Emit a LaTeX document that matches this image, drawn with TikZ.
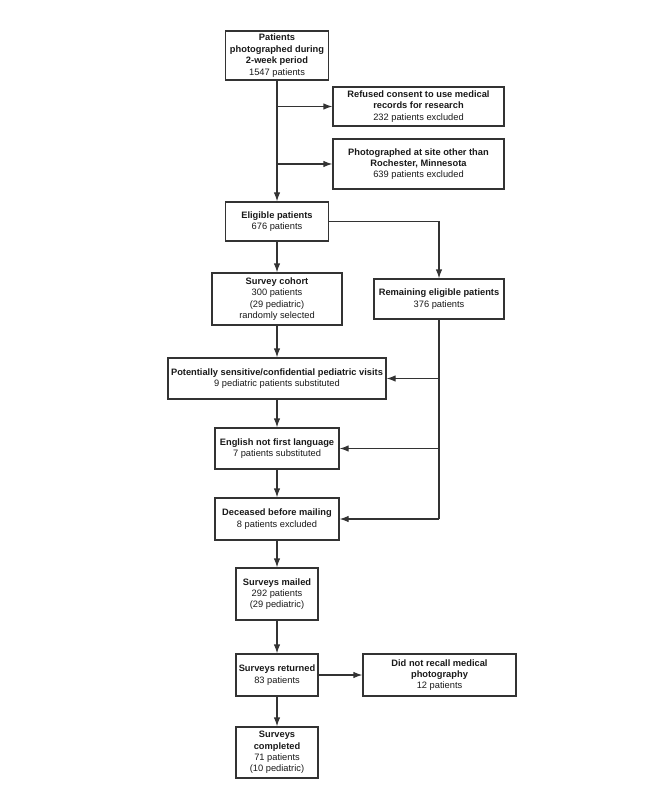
\documentclass[tikz,border=0pt]{standalone}
\usepackage{fontspec}
\setmainfont{Liberation Sans}
\usetikzlibrary{arrows.meta}

\begin{document}
\begin{tikzpicture}[x=1pt, y=-1pt, >={Latex[length=9pt,width=6.5pt]},
        box/.style={draw=black!80, line width=1.2pt, align=center, inner sep=1pt, text=black!90, font=\fontsize{9.3}{11.4}\selectfont},
        flow/.style={draw=black!80, line width=1.2pt}]
        \useasboundingbox (0,0) rectangle (666,799);
        \node[box, minimum width=103pt, minimum height=49pt] (photo) at (277,55.5) {\textbf{Patients}\\\textbf{photographed during}\\\textbf{2-week period}\\1547 patients};
        \node[box, minimum width=171pt, minimum height=39pt] (consent) at (418.5,106.5) {\textbf{Refused consent to use medical}\\\textbf{records for research}\\232 patients excluded};
        \node[box, minimum width=171pt, minimum height=50pt] (site) at (418.5,164) {\textbf{Photographed at site other than}\\\textbf{Rochester, Minnesota}\\639 patients excluded};
        \node[box, minimum width=103pt, minimum height=39pt] (eligible) at (277,221.5) {\textbf{Eligible patients}\\676 patients};
        \node[box, minimum width=130pt, minimum height=52pt] (cohort) at (277,299) {\textbf{Survey cohort}\\300 patients\\(29 pediatric)\\randomly selected};
        \node[box, minimum width=130pt, minimum height=40pt] (remaining) at (439,299) {\textbf{Remaining eligible patients}\\376 patients};
        \node[box, minimum width=218pt, minimum height=41pt] (sensitive) at (277,378.5) {\textbf{Potentially sensitive/confidential pediatric visits}\\9 pediatric patients substituted};
        \node[box, minimum width=124pt, minimum height=41pt] (english) at (277,448.5) {\textbf{English not first language}\\7 patients substituted};
        \node[box, minimum width=124pt, minimum height=42pt] (deceased) at (277,519) {\textbf{Deceased before mailing}\\8 patients excluded};
        \node[box, minimum width=82pt, minimum height=52pt] (mailed) at (277,594) {\textbf{Surveys mailed}\\292 patients\\(29 pediatric)};
        \node[box, minimum width=82pt, minimum height=42pt] (returned) at (277,675) {\textbf{Surveys returned}\\83 patients};
        \node[box, minimum width=153pt, minimum height=42pt] (recall) at (439.5,675) {\textbf{Did not recall medical}\\\textbf{photography}\\12 patients};
        \node[box, minimum width=82pt, minimum height=51pt] (completed) at (277,752.5) {\textbf{Surveys}\\\textbf{completed}\\71 patients\\(10 pediatric)};

        \draw[flow,->] (photo) -- (eligible);
        \draw[flow,->] (photo.south |- consent.west) -- (consent.west);
        \draw[flow,->] (photo.south |- site.west) -- (site.west);
        \draw[flow,->] (eligible) -- (cohort);
        \draw[flow,->] (eligible.east) -| (remaining.north);
        \draw[flow] (remaining.south) -- (remaining.south |- deceased.east);
        \draw[flow,->] (cohort) -- (sensitive);
        \draw[flow,->] (remaining.south |- sensitive.east) -- (sensitive.east);
        \draw[flow,->] (remaining.south |- english.east) -- (english.east);
        \draw[flow,->] (remaining.south |- deceased.east) -- (deceased.east);
        \draw[flow,->] (sensitive) -- (english);
        \draw[flow,->] (english) -- (deceased);
        \draw[flow,->] (deceased) -- (mailed);
        \draw[flow,->] (mailed) -- (returned);
        \draw[flow,->] (returned) -- (completed);
        \draw[flow,->] (returned) -- (recall);
\end{tikzpicture}
\end{document}
